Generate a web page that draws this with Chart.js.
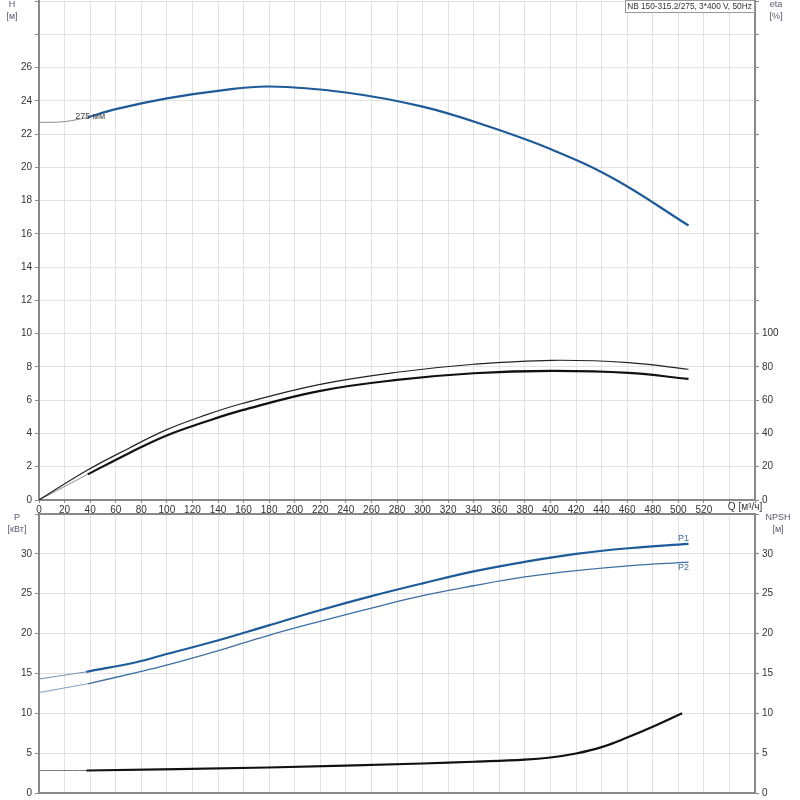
<!DOCTYPE html>
<html>
<head>
<meta charset="utf-8">
<script src="https://cdn.jsdelivr.net/npm/chart.js@4.4.0/dist/chart.umd.min.js"></script>
<style>
  body { margin:0; background:#fff; }
  #wrap { position:relative; width:800px; height:800px; overflow:hidden; }
  canvas { position:absolute; left:0; }
</style>
</head>
<body>
<div id="wrap">
  <canvas id="topChart" width="800" height="527" style="top:-8px"></canvas>
  <canvas id="bottomChart" width="800" height="297" style="top:505px"></canvas>
</div>
<script>
// Head curve (H, m)
const hExtQ = [0, 20, 38];
const hExtH = [22.7, 22.75, 23.0];
const hQ = [38, 60, 100, 140, 180, 240, 300, 350, 400, 450, 508];
const hH = [23.0, 23.5, 24.15, 24.6, 24.86, 24.5, 23.65, 22.5, 21.1, 19.3, 16.5];

// Efficiency curves (eta, %)
const etaQ = [0, 38, 70, 99, 130, 159, 219, 280, 340, 401, 461, 508];
const etaUpper = [0, 18, 31, 42, 51, 58, 69.4, 76.8, 81.6, 84, 82.6, 78.6];
const etaExtQ = [0, 38];
const etaExt = [0, 15.4];
const etaLowQ = [38, 70, 99, 130, 159, 219, 280, 340, 401, 461, 508];
const etaLower = [15.4, 28, 38.5, 47, 54, 65.5, 72.2, 76.2, 77.6, 76.4, 72.8];

// Power curves (P, kW)
const p1ExtQ = [0, 37];
const p1Ext = [14.3, 15.2];
const p1Q = [37, 76, 99, 139, 179, 219, 260, 300, 340, 380, 420, 461, 508];
const p1 = [15.2, 16.4, 17.4, 19.1, 21.0, 22.9, 24.7, 26.3, 27.8, 29.0, 30.0, 30.7, 31.25];
const p2ExtQ = [0, 38];
const p2Ext = [12.6, 13.7];
const p2Q = [38, 76, 99, 139, 179, 219, 260, 300, 340, 380, 420, 461, 508];
const p2 = [13.7, 15.1, 16.0, 17.8, 19.75, 21.5, 23.2, 24.75, 26.0, 27.1, 27.9, 28.5, 28.96];

// NPSH (m)
const npshExtQ = [0, 37];
const npshExt = [2.82, 2.82];
const npshQ = [37, 179, 300, 340, 380, 400, 420, 440, 460, 480, 503];
const npsh = [2.82, 3.2, 3.7, 3.92, 4.18, 4.45, 4.95, 5.75, 6.95, 8.3, 10.0];

const FONT = 'Liberation Sans, Arial, sans-serif';
const GRID = '#e2e2e2';
const AXIS = '#888';
const BLUE = '#1f5b98';

const pts = (xs, ys) => xs.map((x, i) => ({ x, y: ys[i] }));

function line(data, color, width, axis) {
  return { data, borderColor: color, borderWidth: width, pointRadius: 0, fill: false,
           tension: 0.4, yAxisID: axis };
}

function xScale(showLabels, h) {
  return {
    type: 'linear', min: 0, max: 560,
    ticks: { stepSize: 20, autoSkip: false, maxRotation: 0, display: showLabels, padding: 1,
             color: '#333', font: { family: FONT, size: 10 },
             callback: v => v <= 520 ? v : '' },
    grid: { color: GRID, tickLength: showLabels ? 3 : 0, tickColor: AXIS },
    border: { color: AXIS, width: 2 },
    afterFit: s => { s.height = h; }
  };
}

function yScale(pos, max, step, maxLabel, onArea) {
  return {
    position: pos, min: 0, max: max,
    ticks: { stepSize: step, color: '#333', padding: 3, font: { family: FONT, size: 10 },
             callback: v => v <= maxLabel ? v : '' },
    grid: { color: GRID, drawOnChartArea: onArea, tickLength: 4, tickColor: AXIS },
    border: { color: AXIS, width: 2 },
    afterFit: s => { s.width = pos === 'left' ? 39 : 45; }
  };
}

// Extra text: axis titles, curve labels, title box
function textPlugin(id, draw) {
  return { id, afterDraw(chart) { const c = chart.ctx; c.save(); draw(chart, c); c.restore(); } };
}

function title2(c, x, y, a, b) {
  c.fillStyle = '#5b5670';
  c.font = '9px ' + FONT;
  c.textAlign = 'center';
  c.textBaseline = 'middle';
  c.fillText(a, x, y);
  c.fillText(b, x, y + 12);
}

new Chart(document.getElementById('topChart'), {
  type: 'line',
  data: { datasets: [
    line(pts(hExtQ, hExtH), '#8a8a8a', 1, 'y'),
    line(pts(hQ, hH), BLUE, 2.2, 'y'),
    line(pts(etaQ, etaUpper), '#222', 1.2, 'y2'),
    line(pts(etaExtQ, etaExt), '#8a8a8a', 1, 'y2'),
    line(pts(etaLowQ, etaLower), '#111', 2.2, 'y2')
  ]},
  options: {
    responsive: false, animation: false,
    plugins: { legend: { display: false }, tooltip: { enabled: false } },
    scales: {
      x: xScale(true, 19),
      y: yScale('left', 30, 2, 26, true),
      y2: yScale('right', 300, 20, 100, false)
    }
  },
  plugins: [textPlugin('topText', (chart, c) => {
    const x = chart.scales.x, y = chart.scales.y;
    const o = 8; // canvas is shifted up by 8px
    title2(c, 12, 5 + o, 'H', '[м]');
    title2(c, 776, 5 + o, 'eta', '[%]');
    // title box
    c.fillStyle = '#fff';
    c.fillRect(625, o, 129, 12);
    c.strokeStyle = '#999';
    c.lineWidth = 1;
    c.strokeRect(625.5, o + 0.5, 129, 12);
    c.fillStyle = '#333';
    c.font = '8.3px ' + FONT;
    c.textAlign = 'center';
    c.textBaseline = 'middle';
    c.fillText('NB 150-315.2/275, 3*400 V, 50Hz', 689.5, o + 7);
    // impeller label
    c.fillStyle = '#444';
    c.font = '9px ' + FONT;
    c.fillText('275 мм', x.getPixelForValue(40), y.getPixelForValue(23.0) - 1);
    // Q axis label
    c.fillStyle = '#333';
    c.font = '10px ' + FONT;
    c.fillText('Q [м³/ч]', 745, 507 + o);
  })]
});

new Chart(document.getElementById('bottomChart'), {
  type: 'line',
  data: { datasets: [
    line(pts(p1ExtQ, p1Ext), '#6f8fb3', 1, 'y'),
    line(pts(p1Q, p1), BLUE, 2.2, 'y'),
    line(pts(p2ExtQ, p2Ext), '#7d9cc0', 1, 'y'),
    line(pts(p2Q, p2), '#3e6fa3', 1.3, 'y'),
    line(pts(npshExtQ, npshExt), '#777', 1, 'y2'),
    line(pts(npshQ, npsh), '#111', 2.2, 'y2')
  ]},
  options: {
    responsive: false, animation: false,
    plugins: { legend: { display: false }, tooltip: { enabled: false } },
    scales: {
      x: xScale(false, 5),
      y: yScale('left', 35, 5, 30, true),
      y2: yScale('right', 35, 5, 30, false)
    }
  },
  plugins: [textPlugin('bottomText', (chart, c) => {
    const x = chart.scales.x, y = chart.scales.y;
    title2(c, 17, 13, 'P', '[кВт]');
    title2(c, 778, 13, 'NPSH', '[м]');
    // top border of the plot
    const a = chart.chartArea;
    c.strokeStyle = AXIS;
    c.lineWidth = 2;
    c.beginPath();
    c.moveTo(a.left, a.top);
    c.lineTo(a.right, a.top);
    c.stroke();
    c.fillStyle = '#3e6fa3';
    c.font = '9px ' + FONT;
    c.textAlign = 'center';
    c.textBaseline = 'bottom';
    c.fillText('P1', x.getPixelForValue(504), y.getPixelForValue(31.25) - 1);
    c.textBaseline = 'top';
    c.fillText('P2', x.getPixelForValue(504), y.getPixelForValue(28.96) + 1);
  })]
});
</script>
</body>
</html>
